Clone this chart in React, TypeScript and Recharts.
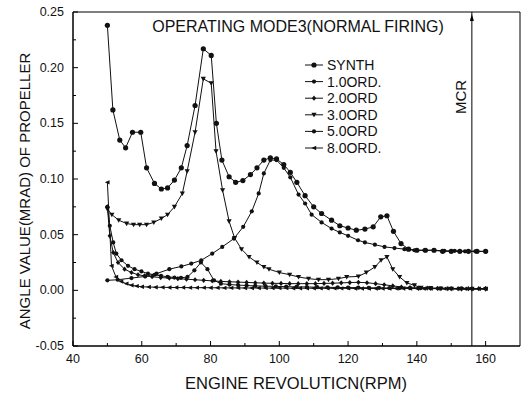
import React from "react";
import {
  LineChart,
  Line,
  XAxis,
  YAxis,
  ReferenceArea,
  ReferenceLine,
  Legend,
} from "recharts";

const FONT = '"Liberation Sans", Arial, sans-serif';

// engine rpm / angle (mrad)
const synthRpm = [50, 51.6, 53.6, 55.3, 57.3, 59.7, 61.4, 63.7, 65.7, 67.5, 69.5, 71.5, 73.2, 75.5, 77.9, 80.2, 81.7, 83.3, 85.4, 87.3, 89.4, 91.6, 93.5, 95.5, 97.4, 99.2, 101.3, 103.2, 105.1, 107.5, 110, 112.3, 115.2, 117.6, 120, 122.4, 124.9, 127.3, 129.5, 131.3, 133.2, 135.4, 137.6, 140, 142.5, 145, 147.5, 150, 152.5, 155, 157.5, 160];
const synthVal = [0.238, 0.162, 0.135, 0.128, 0.142, 0.142, 0.11, 0.096, 0.091, 0.092, 0.099, 0.11, 0.13, 0.166, 0.217, 0.211, 0.15, 0.117, 0.102, 0.097, 0.0986, 0.104, 0.11, 0.117, 0.119, 0.118, 0.113, 0.106, 0.097, 0.085, 0.075, 0.069, 0.063, 0.058, 0.056, 0.054, 0.055, 0.057, 0.066, 0.067, 0.053, 0.042, 0.037, 0.036, 0.036, 0.036, 0.035, 0.035, 0.035, 0.035, 0.035, 0.035];

const ord1Rpm = [50, 53, 57, 61, 64.3, 68, 71.5, 74.4, 77.3, 80.5, 83.4, 86.8, 89.5, 92, 94, 95.5, 97.4, 99.2, 101.3, 103.2, 105.6, 107.5, 109.4, 112.3, 115.2, 117.6, 120, 122.9, 124.9, 127.8, 130.6, 133.5, 136.4, 139.3, 142.2, 145, 148, 151, 154, 157, 160];
const ord1Val = [0.009, 0.0095, 0.011, 0.0125, 0.015, 0.019, 0.0215, 0.024, 0.027, 0.033, 0.039, 0.0465, 0.057, 0.071, 0.087, 0.105, 0.117, 0.117, 0.11, 0.1015, 0.086, 0.078, 0.068, 0.061, 0.0555, 0.052, 0.049, 0.045, 0.043, 0.041, 0.039, 0.038, 0.037, 0.036, 0.036, 0.036, 0.0355, 0.0355, 0.035, 0.035, 0.035];

const ord2Rpm = [50, 50.7, 51.7, 53.1, 55, 57, 58.9, 60.8, 63, 65.5, 68, 70.5, 73, 75.5, 78, 80.5, 83, 85.5, 88, 90.5, 93, 95.5, 98, 100.5, 103, 105.5, 108, 110.5, 113, 115.5, 118, 120.5, 123, 125.5, 128, 130.5, 133, 135.5, 138, 140.5, 143, 146, 149, 152, 155, 158, 160];
const ord2Val = [0.075, 0.049, 0.034, 0.025, 0.019, 0.016, 0.014, 0.013, 0.0122, 0.0115, 0.011, 0.0105, 0.01, 0.0095, 0.009, 0.0085, 0.008, 0.0077, 0.0074, 0.0071, 0.0068, 0.0065, 0.0063, 0.0062, 0.006, 0.006, 0.006, 0.006, 0.0062, 0.0064, 0.0067, 0.007, 0.0072, 0.0068, 0.006, 0.005, 0.004, 0.003, 0.0025, 0.002, 0.002, 0.0018, 0.0016, 0.0015, 0.0015, 0.0015, 0.0015];

const ord3Rpm = [50, 51.3, 53.3, 55.6, 57.6, 59.4, 61.4, 63.5, 65.7, 67.5, 69.5, 71.8, 73.2, 75.5, 77.9, 80.2, 81.6, 83.5, 85.4, 87, 89, 91.2, 93.5, 95.5, 97, 100, 103, 105.6, 108.5, 111.4, 114.3, 117.2, 119.6, 123, 125.3, 127.8, 129.6, 131.3, 133, 135, 137.1, 139.3, 141.2, 144, 147, 150, 153, 156, 160];
const ord3Val = [0.073, 0.068, 0.063, 0.06, 0.059, 0.059, 0.059, 0.061, 0.0645, 0.068, 0.075, 0.087, 0.107, 0.142, 0.19, 0.186, 0.125, 0.09, 0.062, 0.047, 0.037, 0.03, 0.025, 0.021, 0.019, 0.016, 0.014, 0.012, 0.0105, 0.0096, 0.0096, 0.0105, 0.012, 0.0125, 0.016, 0.021, 0.027, 0.03, 0.019, 0.012, 0.0066, 0.0045, 0.0024, 0.002, 0.0015, 0.0012, 0.001, 0.001, 0.001];

const ord5Rpm = [50, 50.7, 51.7, 52.6, 54.1, 56, 57.9, 59.9, 61.8, 63.7, 65.6, 67.5, 69.5, 71.4, 73.3, 75.3, 77.2, 79.1, 81, 83, 85.5, 88, 90.5, 93, 96, 99, 102, 105, 108, 111, 114, 117, 120, 123, 126, 129, 132, 135, 138, 141, 144, 147, 150, 153, 156, 160];
const ord5Val = [0.075, 0.058, 0.043, 0.033, 0.027, 0.022, 0.019, 0.017, 0.015, 0.014, 0.013, 0.0122, 0.0115, 0.0112, 0.012, 0.018, 0.025, 0.019, 0.009, 0.006, 0.0052, 0.0047, 0.0043, 0.004, 0.0037, 0.0035, 0.0033, 0.0031, 0.003, 0.0028, 0.0027, 0.0026, 0.0025, 0.0024, 0.0023, 0.0022, 0.0021, 0.002, 0.002, 0.0019, 0.0018, 0.0018, 0.0017, 0.0017, 0.0016, 0.0016];

const ord8Rpm = [50, 51.2, 52.5, 54, 55.5, 57, 58.5, 60, 62, 64, 66, 68, 70, 72, 74, 76, 78, 80, 82, 84, 86, 88, 90, 92, 94, 96, 98, 100, 102, 104, 106, 108, 110, 112, 114, 116, 118, 120, 122, 124, 126, 128, 130, 132, 134, 136, 138, 140, 142, 144, 146, 148, 150, 152, 154, 156, 158, 160];
const ord8Val = [0.097, 0.022, 0.012, 0.008, 0.006, 0.0045, 0.0038, 0.0032, 0.003, 0.0028, 0.0027, 0.0026, 0.0025, 0.0025, 0.0024, 0.0024, 0.0024, 0.0023, 0.0023, 0.0022, 0.0022, 0.0022, 0.0021, 0.0021, 0.0021, 0.002, 0.002, 0.002, 0.002, 0.0019, 0.0019, 0.0019, 0.0019, 0.0018, 0.0018, 0.0018, 0.0018, 0.0018, 0.0017, 0.0017, 0.0017, 0.0017, 0.0017, 0.0016, 0.0016, 0.0016, 0.0016, 0.0016, 0.0015, 0.0015, 0.0015, 0.0015, 0.0015, 0.0015, 0.0014, 0.0014, 0.0014, 0.0014];

const xTicks = [40, 50, 60, 70, 80, 90, 100, 110, 120, 130, 140, 150, 160];
const yTicks = [-0.05, -0.025, 0, 0.025, 0.05, 0.075, 0.1, 0.125, 0.15, 0.175, 0.2, 0.225, 0.25];
const MCR_RPM = 156;

type MarkerKind = "bigCircle" | "circle" | "diamond" | "triDown" | "triLeft";

const zip = (xs: number[], ys: number[]) => xs.map((x, i) => ({ x, y: ys[i] }));

const SERIES: { name: string; data: { x: number; y: number }[]; marker: MarkerKind }[] = [
  { name: "SYNTH", data: zip(synthRpm, synthVal), marker: "bigCircle" },
  { name: "1.0ORD.", data: zip(ord1Rpm, ord1Val), marker: "circle" },
  { name: "2.0ORD", data: zip(ord2Rpm, ord2Val), marker: "diamond" },
  { name: "3.0ORD", data: zip(ord3Rpm, ord3Val), marker: "triDown" },
  { name: "5.0ORD", data: zip(ord5Rpm, ord5Val), marker: "circle" },
  { name: "8.0ORD.", data: zip(ord8Rpm, ord8Val), marker: "triLeft" },
];

function Marker({ cx, cy, kind }: { cx: number; cy: number; kind: MarkerKind }) {
  if (cx == null || cy == null) return null;
  const c = "#111";
  switch (kind) {
    case "bigCircle":
      return <circle cx={cx} cy={cy} r={2.6} fill={c} />;
    case "circle":
      return <circle cx={cx} cy={cy} r={2.1} fill={c} />;
    case "diamond":
      return <path d={`M${cx},${cy - 2.6}L${cx + 2.2},${cy}L${cx},${cy + 2.6}L${cx - 2.2},${cy}Z`} fill={c} />;
    case "triDown":
      return <path d={`M${cx - 2.6},${cy - 2}L${cx + 2.6},${cy - 2}L${cx},${cy + 2.6}Z`} fill={c} />;
    case "triLeft":
      return <path d={`M${cx - 2.6},${cy}L${cx + 2.2},${cy - 2.2}L${cx + 2.2},${cy + 2.2}Z`} fill={c} />;
  }
  return null;
}

function XTick(props: any) {
  const { x, y, payload } = props;
  const v = payload.value;
  const major = v % 20 === 0;
  return (
    <g>
      <line x1={x} y1={y} x2={x} y2={y - (major ? 5 : 3)} stroke="#000" />
      {major && (
        <text x={x} y={y + 17} textAnchor="middle" fontSize={12.5} fontFamily={FONT} fill="#111">
          {v}
        </text>
      )}
    </g>
  );
}

function YTick(props: any) {
  const { x, y, payload } = props;
  const v = payload.value;
  const major = Math.abs(v * 20 - Math.round(v * 20)) < 1e-6;
  return (
    <g>
      <line x1={x} y1={y} x2={x + (major ? 5 : 3)} y2={y} stroke="#000" />
      {major && (
        <text x={x - 9} y={y + 4} textAnchor="end" fontSize={12.5} fontFamily={FONT} fill="#111">
          {v.toFixed(2)}
        </text>
      )}
    </g>
  );
}

function LegendBox() {
  return (
    <svg width={120} height={100}>
      {SERIES.map((s, i) => {
        const y = 8 + i * 16.6;
        return (
          <g key={s.name}>
            <line x1={2} y1={y} x2={20} y2={y} stroke="#111" />
            <Marker cx={11} cy={y} kind={s.marker} />
            <text x={24} y={y + 5} fontSize={14} fontFamily={FONT} fill="#111">
              {s.name}
            </text>
          </g>
        );
      })}
    </svg>
  );
}

function McrLabel(props: any) {
  const { viewBox } = props;
  const x = viewBox.x;
  const top = viewBox.y;
  return (
    <g>
      <path d={`M${x},${top + 2}L${x - 2},${top + 9}L${x + 2},${top + 9}Z`} fill="#000" />
      <text
        x={x - 6}
        y={97}
        transform={`rotate(-90 ${x - 6} 97)`}
        textAnchor="middle"
        fontSize={15}
        fontFamily={FONT}
        fill="#111"
      >
        MCR
      </text>
    </g>
  );
}

export default function App() {
  return (
    <div style={{ position: "absolute", left: 0, top: 0, width: 523, height: 395, background: "#fff" }}>
      <LineChart width={523} height={395} margin={{ top: 12, right: 3, bottom: 0, left: 0 }}>
        <XAxis
          type="number"
          dataKey="x"
          domain={[40, 170]}
          ticks={xTicks}
          allowDataOverflow
          tick={<XTick />}
          tickLine={false}
          tickSize={0}
          tickMargin={0}
          axisLine={{ stroke: "#000" }}
          height={49}
          label={{
            content: () => (
              <text x={296} y={389} textAnchor="middle" fontSize={16.5} fontFamily={FONT} fill="#111">
                ENGINE REVOLUTICN(RPM)
              </text>
            ),
          }}
        />
        <YAxis
          type="number"
          domain={[-0.05, 0.25]}
          ticks={yTicks}
          allowDataOverflow
          tick={<YTick />}
          tickLine={false}
          tickSize={0}
          tickMargin={0}
          axisLine={{ stroke: "#000" }}
          width={73}
          label={{
            content: () => (
              <text
                x={26}
                y={191}
                transform="rotate(-90 26 191)"
                textAnchor="middle"
                dominantBaseline="middle"
                fontSize={15}
                fontFamily={FONT}
                fill="#111"
              >
                ANGLE VALUE(MRAD) OF PROPELLER
              </text>
            ),
          }}
        />
        <ReferenceArea
          x1={40}
          x2={170}
          y1={-0.05}
          y2={0.25}
          fill="none"
          stroke="#000"
          strokeWidth={1}
          label={{
            content: () => (
              <text x={298} y={32} textAnchor="middle" fontSize={16} fontFamily={FONT} fill="#111">
                OPERATING MODE3(NORMAL FIRING)
              </text>
            ),
          }}
        />
        <ReferenceLine x={MCR_RPM} stroke="#000" strokeWidth={1} label={<McrLabel />} />
        {SERIES.map((s) => (
          <Line
            key={s.name}
            name={s.name}
            data={s.data}
            dataKey="y"
            type="linear"
            stroke="#111"
            strokeWidth={1}
            dot={(p: any) => <Marker key={`${s.name}-${p.index}`} cx={p.cx} cy={p.cy} kind={s.marker} />}
            activeDot={false}
            isAnimationActive={false}
          />
        ))}
        <Legend
          layout="vertical"
          align="center"
          verticalAlign="middle"
          content={() => <LegendBox />}
          wrapperStyle={{ position: "absolute", top: 57, left: 303, width: 120, height: 100 }}
        />
      </LineChart>
    </div>
  );
}
